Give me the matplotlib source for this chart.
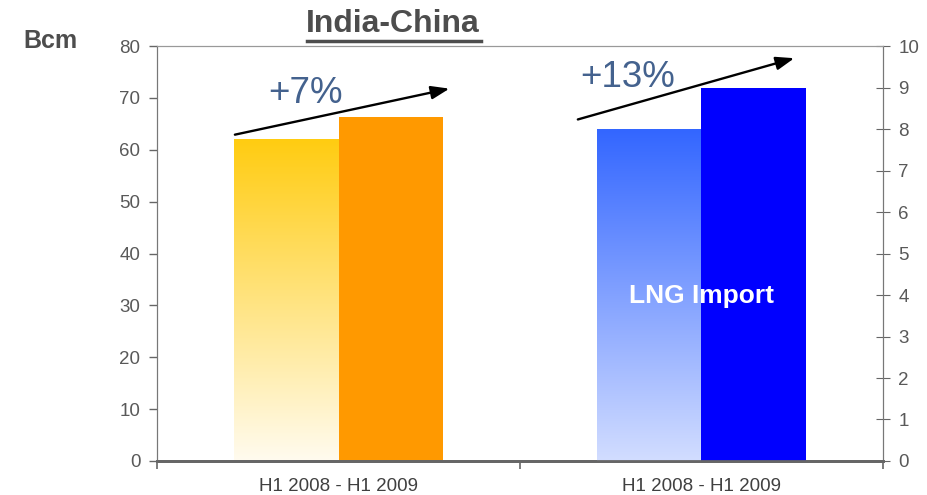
import numpy as np
import matplotlib
matplotlib.use('Agg')
import matplotlib.pyplot as plt
from matplotlib.colors import LinearSegmentedColormap

plt.rcParams['font.family'] = ['Liberation Sans', 'DejaVu Sans']

categories = ['H1 2008 - H1 2009', 'H1 2008 - H1 2009']
india_values = [62.0, 66.3]      # Bcm, left axis
lng_values = [8.0, 9.0]          # right axis
growth_labels = ['+7%', '+13%']

GRAY = '#595959'
fig = plt.figure(figsize=(9.27, 4.95), dpi=100)
ax = fig.add_axes([0.1694, 0.0687, 0.7831, 0.8383])
ax2 = ax.twinx()

width = 0.287
x = np.arange(len(categories))


def gradient_bar(axis, xpos, height, top, bottom):
    bar = axis.bar(xpos, height, width, align='edge', color='none', linewidth=0)[0]
    cmap = LinearSegmentedColormap.from_list('g', [bottom, top])
    grad = np.linspace(0, 1, 256).reshape(-1, 1)
    im = axis.imshow(grad, cmap=cmap, origin='lower', aspect='auto',
                     extent=[xpos, xpos + width, 0, height], zorder=2)
    im.set_clip_path(bar)


gradient_bar(ax, x[0] - width, india_values[0], '#FFCC11', '#FFFBEF')
ax.bar(x[0], india_values[1], width, align='edge', color='#FF9900', zorder=2)
gradient_bar(ax2, x[1] - width, lng_values[0], '#3366FF', '#D2DDFF')
ax2.bar(x[1], lng_values[1], width, align='edge', color='#0000FF', zorder=2)

# axes styling
ax.set_yticks(np.arange(0, 81, 10))
ax2.set_yticks(np.arange(0, 11, 1))
ax.set_xticks(x)
ax.set_xticklabels(categories)
ax.set_xticks([-0.5, 0.5, 1.5], minor=True)
ax.tick_params(axis='x', which='major', length=0, pad=12, labelsize=13.5, labelcolor='#404040')
ax.tick_params(axis='x', which='minor', length=6, color='#666666', width=1.2)
ax.tick_params(axis='y', length=6, color='#666666', labelsize=13.5, labelcolor=GRAY, width=1, pad=6)
ax2.tick_params(axis='y', direction='inout', length=10, color='#666666', labelsize=13.5,
                labelcolor=GRAY, pad=6)
for a in (ax, ax2):
    a.spines['top'].set_color('#999999')
    a.spines['left'].set_color('#777777')
    a.spines['right'].set_color('#777777')
    a.spines['bottom'].set_color('#666666')
    a.spines['bottom'].set_linewidth(2)
    a.set_xlim(-0.5, 1.5)
ax.set_ylim(0, 80)
ax2.set_ylim(0, 10)

# growth arrows
arrow = dict(arrowstyle='-|>,head_length=1.1,head_width=0.4', color='black', lw=1.7)
ax.annotate('', xy=(0.313, 71.9), xytext=(-0.293, 62.8), arrowprops=arrow)
ax.annotate('', xy=(1.263, 77.8), xytext=(0.652, 65.7), arrowprops=arrow)
ax.text(-0.092, 70.9, growth_labels[0], ha='center', va='center', fontsize=26.5, color='#44628E')
ax.text(0.797, 73.9, growth_labels[1], ha='center', va='center', fontsize=26.5, color='#44628E')

ax2.text(1.0, 3.97, 'LNG Import', ha='center', va='center', fontsize=19,
         fontweight='bold', color='white', zorder=5)

fig.text(0.424, 0.951, 'India-China', ha='center', va='center', fontsize=23,
         fontweight='bold', color='#4D4D4D')
fig.add_artist(plt.Line2D([0.331, 0.519], [0.918, 0.918], color='#4D4D4D', lw=2.5))
fig.text(0.054, 0.918, 'Bcm', ha='center', va='center', fontsize=18,
         fontweight='bold', color='#4D4D4D')

fig.savefig('out.png', dpi=100)
